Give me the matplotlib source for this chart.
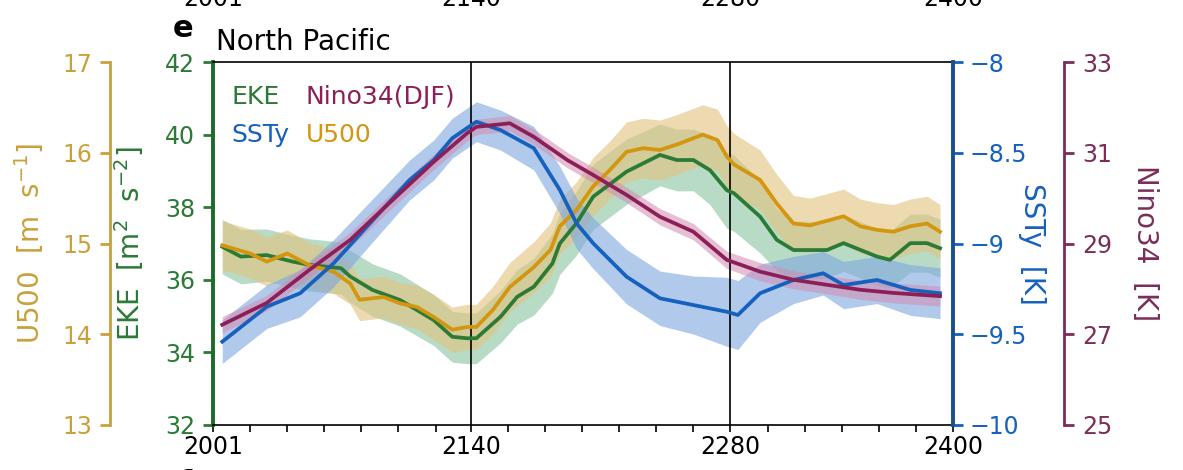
import matplotlib
matplotlib.use("Agg")
import matplotlib.pyplot as plt
import numpy as np

plt.rcParams['font.family'] = ['DejaVu Sans']

# ---- data ----
nino_yr = [2006, 2030, 2053, 2075, 2095, 2120, 2138, 2143, 2161, 2174, 2192,
           2206, 2224, 2242, 2260, 2278, 2296, 2314, 2332, 2350, 2368, 2393]
nino = [27.21, 27.69, 28.42, 29.08, 29.85, 30.80, 31.43, 31.57, 31.65, 31.35, 30.84,
        30.51, 30.07, 29.59, 29.26, 28.64, 28.38, 28.20, 28.09, 27.98, 27.91, 27.84]
nino_sd = [0.18, 0.17, 0.17, 0.17, 0.17, 0.17, 0.17, 0.17, 0.17, 0.17, 0.17,
           0.17, 0.17, 0.18, 0.18, 0.19, 0.2, 0.2, 0.2, 0.21, 0.22, 0.22]

sst_yr = [2006, 2030, 2048, 2066, 2084, 2107, 2120, 2130, 2143, 2156, 2174, 2188, 2197,
          2206, 2224, 2242, 2260, 2278, 2284, 2296, 2314, 2330, 2341, 2359, 2377, 2393]
sst = [-9.541, -9.348, -9.274, -9.109, -8.907, -8.650, -8.540, -8.420, -8.329, -8.375,
       -8.475, -8.705, -8.889, -8.999, -9.183, -9.302, -9.339, -9.376, -9.394, -9.274,
       -9.201, -9.164, -9.229, -9.201, -9.256, -9.274]
sst_sd = [0.12, 0.12, 0.13, 0.13, 0.12, 0.11, 0.11, 0.11, 0.11, 0.11, 0.12, 0.13, 0.14,
          0.14, 0.15, 0.15, 0.16, 0.19, 0.19, 0.16, 0.13, 0.12, 0.13, 0.13, 0.14, 0.14]

eke_yr = [2006, 2016, 2030, 2044, 2053, 2070, 2075, 2087, 2102, 2120, 2130, 2138, 2143,
          2156, 2165, 2174, 2184, 2188, 2197, 2206, 2224, 2242, 2251, 2260, 2269, 2278,
          2282, 2296, 2305, 2314, 2332, 2341, 2359, 2366, 2377, 2386, 2393]
eke = [36.91, 36.64, 36.68, 36.50, 36.41, 36.32, 36.09, 35.72, 35.44, 34.89, 34.43,
       34.39, 34.39, 34.98, 35.53, 35.81, 36.45, 37.00, 37.56, 38.29, 38.98, 39.44,
       39.30, 39.30, 39.02, 38.47, 38.38, 37.74, 37.10, 36.82, 36.82, 37.01, 36.64,
       36.55, 37.01, 37.01, 36.87]
eke_sd = [0.75, 0.75, 0.72, 0.72, 0.72, 0.72, 0.72, 0.72, 0.72, 0.7, 0.7, 0.7, 0.7,
          0.72, 0.75, 0.78, 0.82, 0.85, 0.88, 0.9, 0.9, 0.85, 0.85, 0.85, 0.95, 1.05,
          1.05, 1.0, 0.85, 0.8, 0.78, 0.78, 0.78, 0.78, 0.8, 0.8, 0.8]

u_yr = [2006, 2021, 2030, 2041, 2053, 2066, 2075, 2080, 2093, 2102, 2111, 2120, 2130,
        2138, 2143, 2152, 2161, 2174, 2183, 2188, 2197, 2206, 2215, 2224, 2233, 2242,
        2251, 2260, 2265, 2273, 2278, 2282, 2296, 2305, 2314, 2323, 2341, 2350, 2359,
        2368, 2377, 2386, 2393]
u500 = [14.98, 14.89, 14.80, 14.89, 14.76, 14.69, 14.56, 14.38, 14.41, 14.34, 14.30,
        14.19, 14.05, 14.08, 14.08, 14.27, 14.52, 14.74, 14.93, 15.19, 15.37, 15.63,
        15.81, 16.01, 16.05, 16.03, 16.09, 16.16, 16.20, 16.14, 15.96, 15.87, 15.70,
        15.44, 15.22, 15.20, 15.30, 15.19, 15.15, 15.13, 15.19, 15.22, 15.13]
u_sd = [0.27, 0.27, 0.27, 0.26, 0.25, 0.24, 0.23, 0.23, 0.23, 0.23, 0.24, 0.25, 0.25,
        0.25, 0.25, 0.26, 0.27, 0.28, 0.3, 0.3, 0.31, 0.32, 0.32, 0.33, 0.33, 0.33,
        0.33, 0.33, 0.33, 0.34, 0.34, 0.34, 0.33, 0.32, 0.31, 0.3, 0.3, 0.3, 0.3, 0.3,
        0.3, 0.3, 0.3]

xlabels = {2001: "2001", 2140: "2140", 2280: "2280", 2400: "2400"}
xticks = [2001, 2021, 2041, 2061, 2081, 2101, 2121, 2140, 2160, 2180, 2200, 2220,
          2240, 2260, 2280, 2300, 2320, 2340, 2360, 2380, 2400]

# colours
c_eke, c_eke_ax, c_eke_band = "#2b7a35", "#1d6b2c", "#7fbf98"
c_u, c_u_ax, c_u_band = "#d4960f", "#c9a13b", "#e2c27c"
c_s, c_s_ax, c_s_band = "#1561bd", "#1b4f8c", "#7ea7e0"
c_n, c_n_ax, c_n_band = "#8c1f58", "#7b2d5a", "#d28cb2"

FS = 17
LFS = 20

fig = plt.figure(figsize=(11.83, 4.70), dpi=100)
ax = fig.add_axes([213 / 1183, 1 - 425 / 470, 740 / 1183, 363 / 470])
ax_u = ax.twinx()
ax_s = ax.twinx()
ax_n = ax.twinx()

ax.set_xlim(2001, 2400)
ax.set_ylim(32, 42)
ax_u.set_ylim(13, 17)
ax_s.set_ylim(-10, -8)
ax_n.set_ylim(25, 33)

series = [
    (ax, eke_yr, eke, eke_sd, c_eke, c_eke_band, 0.55),
    (ax_u, u_yr, u500, u_sd, c_u, c_u_band, 0.6),
    (ax_s, sst_yr, sst, sst_sd, c_s, c_s_band, 0.6),
    (ax_n, nino_yr, nino, nino_sd, c_n, c_n_band, 0.55),
]
# bands first, then lines, all on the main axes using each twin's scale
for a, yr, v, sd, lc, bc, al in series:
    v = np.array(v)
    sd = np.array(sd)
    ax.fill_between(yr, v - sd, v + sd, color=bc, alpha=al, lw=0,
                    transform=a.transData, zorder=1)
for a, yr, v, sd, lc, bc, al in series:
    ax.plot(yr, v, color=lc, lw=2.7, transform=a.transData, zorder=3)

ax.set_xlim(2001, 2400)
ax.set_ylim(32, 42)

for xv in [2140, 2280]:
    ax.axvline(xv, color="k", lw=1.2, zorder=2.5)

# x axis
ax.set_xticks(xticks)
ax.set_xticklabels([xlabels.get(t, "") for t in xticks])
ax.tick_params(axis="x", length=5, width=1.2, direction="out", labelsize=FS, pad=2)
ax.spines["top"].set_linewidth(1.2)
ax.spines["bottom"].set_linewidth(1.2)

# EKE axis (main left)
ax.spines["right"].set_visible(False)
ax.spines["left"].set_color(c_eke_ax)
ax.spines["left"].set_linewidth(2.8)
ax.set_yticks([32, 34, 36, 38, 40, 42])
ax.tick_params(axis="y", colors=c_eke, length=7, width=2, labelsize=FS, pad=6)
ax.set_ylabel("EKE  [m$^2$  s$^{-2}$]", color=c_eke, fontsize=LFS)
ax.yaxis.set_label_coords(-0.09, 0.5)

for a in [ax_u, ax_s, ax_n]:
    for sp in a.spines.values():
        sp.set_visible(False)
    a.tick_params(axis="x", bottom=False, top=False, labelbottom=False)

# U500 axis (outer left)
ax_u.spines["left"].set_visible(True)
ax_u.spines["left"].set_position(("axes", -0.139))
ax_u.spines["left"].set_color(c_u_ax)
ax_u.spines["left"].set_linewidth(2)
ax_u.yaxis.set_ticks_position("left")
ax_u.yaxis.set_label_position("left")
ax_u.set_yticks([13, 14, 15, 16, 17])
ax_u.tick_params(axis="y", colors=c_u_ax, length=7, width=2, labelsize=FS, pad=6)
ax_u.set_ylabel("U500  [m  s$^{-1}$]", color=c_u_ax, fontsize=LFS)
ax_u.yaxis.set_label_coords(-0.226, 0.5)

# SSTy axis (inner right)
ax_s.spines["right"].set_visible(True)
ax_s.spines["right"].set_color(c_s_ax)
ax_s.spines["right"].set_linewidth(2.8)
ax_s.set_yticks([-10, -9.5, -9, -8.5, -8])
ax_s.set_yticklabels(["\u221210", "\u22129.5", "\u22129", "\u22128.5", "\u22128"])
ax_s.tick_params(axis="y", colors=c_s, length=7, width=2, labelsize=FS, pad=5)
ax_s.set_ylabel("SSTy  [K]", color=c_s, fontsize=LFS, rotation=270)
ax_s.yaxis.set_label_coords(1.125, 0.5)

# Nino34 axis (outer right)
ax_n.spines["right"].set_visible(True)
ax_n.spines["right"].set_position(("axes", 1.150))
ax_n.spines["right"].set_color(c_n_ax)
ax_n.spines["right"].set_linewidth(2)
ax_n.set_yticks([25, 27, 29, 31, 33])
ax_n.tick_params(axis="y", colors=c_n_ax, length=7, width=2, labelsize=FS, pad=6)
ax_n.set_ylabel("Nino34  [K]", color=c_n_ax, fontsize=LFS, rotation=270)
ax_n.yaxis.set_label_coords(1.278, 0.5)

# legend as coloured text
ax.text(0.025, 0.885, "EKE", color=c_eke, fontsize=18, transform=ax.transAxes)
ax.text(0.125, 0.885, "Nino34(DJF)", color=c_n, fontsize=18, transform=ax.transAxes)
ax.text(0.025, 0.78, "SSTy", color=c_s, fontsize=18, transform=ax.transAxes)
ax.text(0.125, 0.78, "U500", color=c_u, fontsize=18, transform=ax.transAxes)

# title and panel letter
fig.text(216 / 1183, 1 - 50 / 470, "North Pacific", fontsize=20, va="baseline")
fig.text(173 / 1183, 1 - 37 / 470, "e", fontsize=22, fontweight="bold", va="baseline")

# cropped tick labels of the panel above and the letter below
for xv, lab in xlabels.items():
    fx = (213 + (xv - 2001) * 740 / 399) / 1183
    fig.text(fx, 1 - 6 / 470, lab, fontsize=FS, ha="center", va="baseline")
fig.text(178 / 1183, 1 / 470, "f", fontsize=22, fontweight="bold", va="top")

fig.savefig("out.png", dpi=100)
